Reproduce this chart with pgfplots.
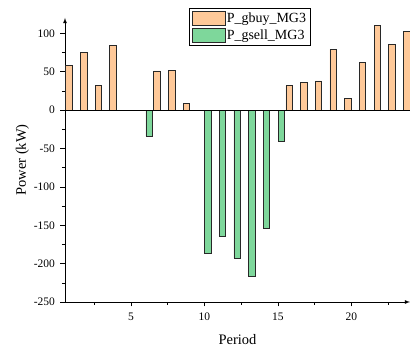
\documentclass[border=0pt]{standalone}
\usepackage{pgfplots}
\pgfplotsset{compat=1.18}
\usepackage{fontspec}
\setmainfont{Liberation Serif}
\definecolor{buy}{RGB}{255,201,153}
\definecolor{sell}{RGB}{126,215,155}
\definecolor{edge}{RGB}{40,40,40}
\pgfplotsset{mybarlegend/.style={legend image code/.code={\draw[##1, line width=0.6pt] (0pt,-7pt) rectangle (33pt,7pt);}}}
\begin{document}
\begin{tikzpicture}
\begin{axis}[
  name=ax,
  scale only axis,
  width=345pt, height=284pt,
  xmin=0.5, xmax=24, ymin=-250, ymax=120,
  axis lines=left,
  axis line style={black, line width=0.8pt, -latex},
  xtick={5,10,15,20}, xticklabels={5,10,15,20},
  minor xtick={2.5,7.5,12.5,17.5,22.5},
  ytick={-250,-200,-150,-100,-50,0,50,100},
  yticklabels={-250,-200,-150,-100,-50,0,50,100},
  minor ytick={-225,-175,-125,-75,-25,25,75},
  tick align=outside,
  major tick length=4.5pt, minor tick length=3pt,
  tick style={black, line width=0.6pt},
  ticklabel style={font=\fontsize{11.5}{13}\selectfont},
  xticklabel style={yshift=-3pt},
  yticklabel style={xshift=-2pt},
  xlabel={Period}, ylabel={Power (kW)},
  label style={font=\fontsize{14.5}{16}\selectfont},
  xlabel style={yshift=-7pt},
  ylabel style={yshift=-2pt},
  legend style={at={(rel axis cs:0.359,1.035)}, anchor=north west,
    font=\fontsize{14}{16}\selectfont, draw=black, line width=0.6pt,
    inner xsep=3pt, inner ysep=3pt, row sep=2pt,
    nodes={inner xsep=1pt, inner ysep=0pt}, cells={anchor=west}},
  ybar, bar width=0.44,
]
\addplot[fill=buy, draw=edge, line width=0.7pt, bar shift=-0.23, mybarlegend] coordinates {
(1,58) (2,75) (3,32) (4,84) (7,51) (8,52) (9,9)
(16,32) (17,36) (18,38) (19,79) (20,15) (21,62) (22,110)
(23,86) (24,102)};
\addplot[fill=sell, draw=edge, line width=0.7pt, bar shift=0.23, mybarlegend] coordinates {
(6,-34) (10,-186) (11,-165) (12,-193)
(13,-217) (14,-154) (15,-41)};
\legend{P\_gbuy\_MG3, P\_gsell\_MG3}
\draw[black, line width=0.8pt] (axis cs:0.5,0) -- (axis cs:24,0);
\end{axis}
\pgfresetboundingbox
\path ([xshift=-65pt,yshift=-45pt]ax.south west) rectangle ([yshift=18pt]ax.north east);
\end{tikzpicture}
\end{document}
